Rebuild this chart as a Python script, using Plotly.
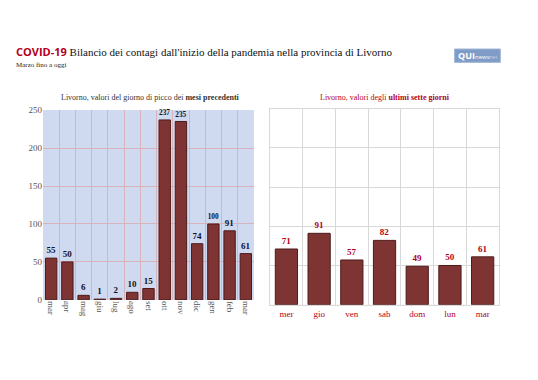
import plotly.graph_objects as go

months = ["mar", "apr", "mag", "giu", "lug", "ago", "set", "ott", "nov", "dic", "gen", "feb", "mar "]
month_vals = [55, 50, 6, 1, 2, 10, 15, 237, 235, 74, 100, 91, 61]
days = ["mer", "gio", "ven", "sab", "dom", "lun", "mar"]
day_vals = [71, 91, 57, 82, 49, 50, 61]
y_ticks = [0, 50, 100, 150, 200, 250]

SERIF = "Liberation Serif, Times New Roman, serif"
BAR = "#7f3434"
BAR_LINE = "#4e1a1a"
RED = "#b3001b"

fig = go.Figure()
fig.add_trace(go.Bar(
    x=months, y=month_vals, xaxis="x", yaxis="y",
    marker=dict(color=BAR, line=dict(color=BAR_LINE, width=1)),
    width=0.7,
    text=[str(v) for v in month_vals], textposition="outside",
    textfont=dict(family=SERIF, size=9, color="#111122", weight="bold"),
    cliponaxis=False, hoverinfo="x+y",
))
fig.add_trace(go.Bar(
    x=days, y=day_vals, xaxis="x2", yaxis="y2",
    marker=dict(color=BAR, line=dict(color=BAR_LINE, width=1)),
    width=0.68,
    text=[str(v) for v in day_vals], textposition="outside",
    textfont=dict(family=SERIF, size=9, color=RED, weight="bold"),
    cliponaxis=False, hoverinfo="x+y",
))

fig.update_layout(
    width=538, height=380,
    margin=dict(l=0, r=0, t=0, b=0),
    paper_bgcolor="white",
    showlegend=False,
    bargap=0.3,
    xaxis=dict(domain=[0.08, 0.472], type="category", tickson="boundaries",
               showgrid=True, gridcolor="#d9b3bb", gridwidth=1,
               tickangle=90, ticks="", showline=False,
               tickfont=dict(family=SERIF, size=9, color="#555555"),
               anchor="y", fixedrange=True),
    yaxis=dict(domain=[0.203, 0.716], range=[0, 250], tickvals=y_ticks,
               showgrid=True, gridcolor="#d9b3bb", gridwidth=1,
               zeroline=False, showline=False, ticks="",
               tickfont=dict(family=SERIF, size=9, color="#555555"),
               anchor="x", fixedrange=True),
    xaxis2=dict(domain=[0.502, 0.9275], type="category", tickson="boundaries",
                showgrid=True, gridcolor="#d9d9d9", gridwidth=1,
                ticks="", showline=True, linecolor="#d9d9d9", mirror=True,
                tickfont=dict(family=SERIF, size=9, color=RED),
                anchor="y2", fixedrange=True),
    yaxis2=dict(domain=[0.19, 0.72], range=[0, 250], tickvals=y_ticks,
                showgrid=True, gridcolor="#d9d9d9", gridwidth=1,
                zeroline=False, showline=True, linecolor="#d9d9d9", mirror=True,
                showticklabels=False, ticks="",
                anchor="x2", fixedrange=True),
    plot_bgcolor="#cfdaf0",
)

# white background for the right panel
fig.add_shape(type="rect", xref="x2 domain", yref="y2 domain", x0=0, x1=1, y0=0, y1=1,
              fillcolor="white", line=dict(width=0), layer="below")

fig.add_annotation(
    x=0.026, y=0.875, xref="paper", yref="paper", xanchor="left", yanchor="middle",
    text="<span style='font-family:Open Sans, sans-serif;color:#b3001b'><b>COVID-19</b></span> Bilancio dei contagi dall'inizio della pandemia nella provincia di Livorno",
    font=dict(family=SERIF, size=11, color="#111111"), showarrow=False,
)
fig.add_annotation(
    x=0.026, y=0.838, xref="paper", yref="paper", xanchor="left", yanchor="middle",
    text="Marzo fino a oggi", font=dict(family=SERIF, size=7, color="#222222"), showarrow=False,
)
fig.add_annotation(
    x=0.28, y=0.75, xref="paper", yref="paper", xanchor="center", yanchor="middle",
    text="Livorno, valori del giorno di picco dei <b>mesi precedenti</b>",
    font=dict(family=SERIF, size=8, color="#333333"), showarrow=False,
)
fig.add_annotation(
    x=0.715, y=0.75, xref="paper", yref="paper", xanchor="center", yanchor="middle",
    text="Livorno, valori degli <b>ultimi sette giorni</b>",
    font=dict(family=SERIF, size=8, color=RED), showarrow=False,
)
# logo
fig.add_shape(type="rect", xref="paper", yref="paper", x0=0.845, x1=0.93, y0=0.845, y1=0.881,
              fillcolor="#7f9cc6", line=dict(color="#9fb4d4", width=1))
fig.add_annotation(
    x=0.8875, y=0.863, xref="paper", yref="paper", xanchor="center", yanchor="middle",
    text="<b>QUI</b><span style='font-size:6px'>news</span><span style='font-size:5px;color:#c8d6ea'>net</span>",
    font=dict(family="Open Sans, sans-serif", size=9, color="white"), showarrow=False,
)

fig.write_html("out.html", config={"displayModeBar": False},
               post_script="document.body.style.margin='0';document.body.style.overflow='hidden';")
